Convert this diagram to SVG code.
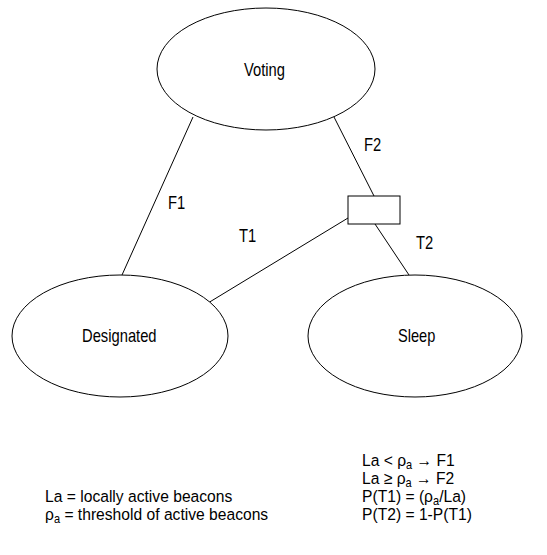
<svg xmlns="http://www.w3.org/2000/svg" width="547" height="555" viewBox="0 0 547 555">
<style>
.n{fill:#fff;stroke:#000;stroke-width:1}
.c line{stroke:#000;stroke-width:1}
text{font-family:"Liberation Sans",Arial,sans-serif;font-size:18px;fill:#000}
.lg{font-size:17px}
.sub{font-size:12px}
</style>
<rect width="547" height="555" fill="#fff"/>
<g id="connectors" class="c">
<line x1="193" y1="117" x2="122" y2="275"/>
<line x1="334" y1="117" x2="374" y2="196"/>
<line x1="348" y1="218" x2="208" y2="303"/>
<line x1="375" y1="224" x2="409" y2="275"/>
</g>
<g id="voting"><ellipse class="n" cx="266" cy="69" rx="109" ry="61"/><text transform="translate(244 76) scale(0.82 1)">Voting</text></g>
<g id="designated"><ellipse class="n" cx="120" cy="336" rx="108" ry="61"/><text transform="translate(82 342) scale(0.82 1)">Designated</text></g>
<g id="sleep"><ellipse class="n" cx="415" cy="336" rx="107" ry="61"/><text transform="translate(398 342) scale(0.81 1)">Sleep</text></g>
<g id="junction"><rect class="n" x="348" y="196" width="52" height="28"/></g>
<g id="labels">
<text transform="translate(168 209) scale(0.82 1)">F1</text>
<text transform="translate(364 151) scale(0.82 1)">F2</text>
<text transform="translate(239 242) scale(0.82 1)">T1</text>
<text transform="translate(416 249) scale(0.82 1)">T2</text>
</g>
<g id="legend">
<text class="lg" transform="translate(45 502) scale(0.92 1)">La = locally active beacons</text>
<text class="lg" transform="translate(45 520) scale(0.92 1)">ρ<tspan class="sub" dy="3">a</tspan><tspan dy="-3"> = threshold of active beacons</tspan></text>
<text class="lg" transform="translate(362 466) scale(0.92 1)">La &lt; ρ<tspan class="sub" dy="3">a</tspan><tspan dy="-3"> → F1</tspan></text>
<text class="lg" transform="translate(362 484) scale(0.92 1)">La ≥ ρ<tspan class="sub" dy="3">a</tspan><tspan dy="-3"> → F2</tspan></text>
<text class="lg" transform="translate(362 502) scale(0.92 1)">P(T1) = (ρ<tspan class="sub" dy="3">a</tspan><tspan dy="-3">/La)</tspan></text>
<text class="lg" transform="translate(362 520) scale(0.92 1)">P(T2) = 1-P(T1)</text>
</g>
</svg>
